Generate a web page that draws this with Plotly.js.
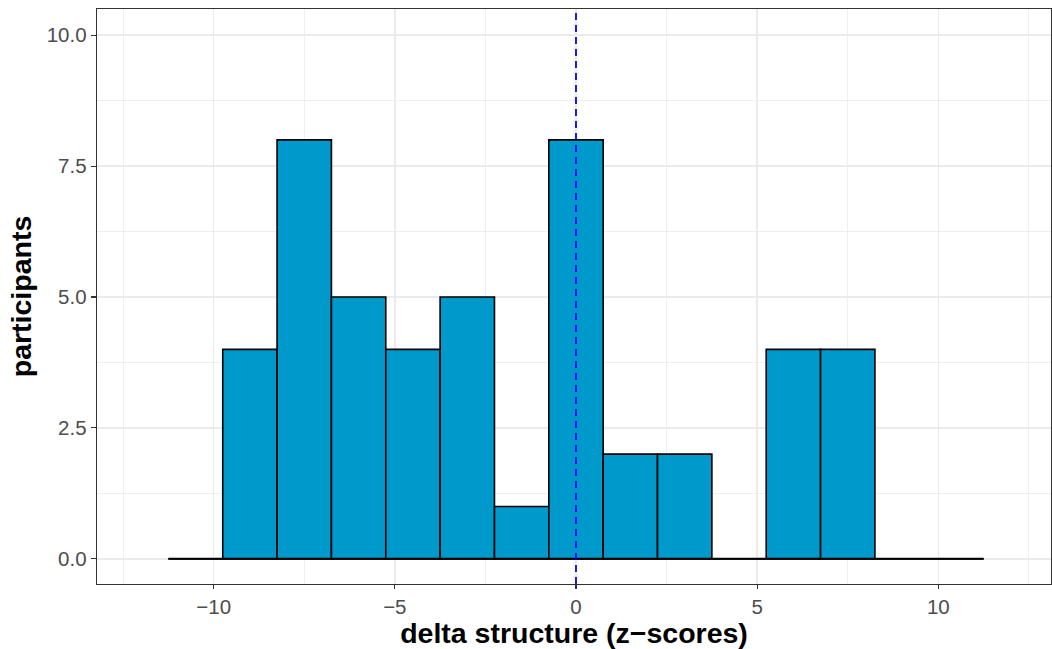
<!DOCTYPE html>
<html>
<head>
<meta charset="utf-8">
<script src="https://cdn.plot.ly/plotly-3.0.1.min.js"></script>
<style>html,body{margin:0;padding:0;background:#fff;}#chart{width:1052px;height:649px;}</style>
</head>
<body>
<div id="chart"></div>
<script>
// Histogram bins (centers, width 1.5) and counts
const binCenters = [-10.5, -9, -7.5, -6, -4.5, -3, -1.5, 0, 1.5, 3, 4.5, 6, 7.5, 9, 10.5];
const binCounts  = [0, 4, 8, 5, 4, 5, 1, 8, 2, 2, 0, 4, 4, 0, 0];
const binWidth = 1.5;
const referenceLine = 0;
const xTickValues = [-10, -5, 0, 5, 10];
const yTickValues = [0, 2.5, 5, 7.5, 10];

const edgeLow = binCenters[0] - binWidth / 2;
const edgeHigh = binCenters[binCenters.length - 1] + binWidth / 2;

const baseline = {
  type: 'scatter', mode: 'lines',
  x: [edgeLow, edgeHigh], y: [0, 0],
  line: {color: '#000000', width: 2},
  hoverinfo: 'skip', showlegend: false
};
const bars = {
  type: 'bar',
  x: binCenters, y: binCounts,
  width: binCenters.map(() => binWidth),
  marker: {color: '#0099CC', line: {color: '#000000', width: 1.6}},
  showlegend: false
};

const tickFont = {family: 'Liberation Sans, Arial, sans-serif', size: 20.5, color: '#4D4D4D'};
const titleFont = {family: 'Liberation Sans, Arial, sans-serif', size: 28.5, color: '#000000', weight: 'bold'};

const layout = {
  width: 1052, height: 649,
  paper_bgcolor: '#ffffff', plot_bgcolor: '#ffffff',
  margin: {l: 97, r: 1, t: 9, b: 65},
  bargap: 0,
  showlegend: false,
  xaxis: {
    range: [-13.22, 13.11],
    tickvals: xTickValues,
    ticktext: xTickValues.map(v => v < 0 ? '\u2212' + Math.abs(v) : String(v)),
    tickfont: tickFont,
    ticks: 'outside', ticklen: 4, tickwidth: 1.1, tickcolor: '#333333',
    showline: true, linecolor: '#333333', linewidth: 1.3, mirror: true,
    showgrid: true, gridcolor: '#EBEBEB', gridwidth: 1.4,
    minor: {dtick: 2.5, tick0: 0, showgrid: true, gridcolor: '#EBEBEB', gridwidth: 0.8, ticks: ''},
    zeroline: false,
    title: {text: 'delta structure (z\u2212scores)', font: titleFont, standoff: 5},
    automargin: false
  },
  yaxis: {
    range: [-0.48, 10.5],
    tickvals: yTickValues,
    ticktext: yTickValues.map(v => v.toFixed(1)),
    tickfont: tickFont,
    ticks: 'outside', ticklen: 5, tickwidth: 1.1, tickcolor: '#333333',
    showline: true, linecolor: '#333333', linewidth: 1.3, mirror: true,
    showgrid: true, gridcolor: '#EBEBEB', gridwidth: 1.4,
    minor: {dtick: 1.25, tick0: 0, showgrid: true, gridcolor: '#EBEBEB', gridwidth: 0.8, ticks: ''},
    zeroline: false,
    title: {text: 'participants', font: titleFont, standoff: 6},
    automargin: false
  },
  shapes: [{
    type: 'line', xref: 'x', yref: 'paper',
    x0: referenceLine, x1: referenceLine, y0: 0, y1: 1,
    line: {color: '#0000FF', width: 1.8, dash: '7px,5px'},
    layer: 'above'
  }]
};

Plotly.newPlot('chart', [baseline, bars], layout, {displayModeBar: false, staticPlot: true});
</script>
</body>
</html>
